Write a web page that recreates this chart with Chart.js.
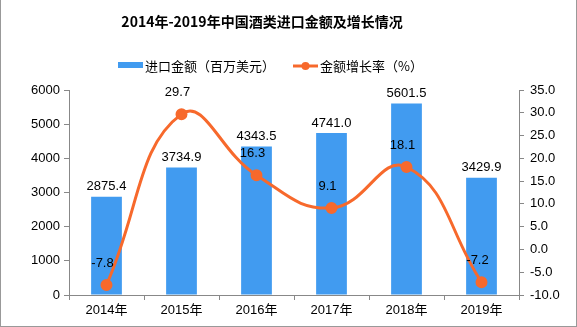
<!DOCTYPE html>
<html>
<head>
<meta charset="utf-8">
<script src="https://cdn.jsdelivr.net/npm/chart.js@4"></script>
<style>
  html, body { margin: 0; padding: 0; background: #fff; }
  #wrap { position: relative; width: 575px; height: 326px; border: 1px solid #999; border-top: none; }
</style>
</head>
<body>
<div id="wrap"><canvas id="wineChart" width="575" height="326"></canvas></div>
<script>
// data
const years = ["2014年", "2015年", "2016年", "2017年", "2018年", "2019年"];
const importValue = [2875.4, 3734.9, 4343.5, 4741.0, 5601.5, 3429.9];
const growthRate = [-7.8, 29.7, 16.3, 9.1, 18.1, -7.2];
const leftTicks = [0, 1000, 2000, 3000, 4000, 5000, 6000];
const rightTicks = [-10, -5, 0, 5, 10, 15, 20, 25, 30, 35];

const BAR_COLOR = "#419BF0";
const LINE_COLOR = "#F7692C";
const AXIS_COLOR = "#888";
const FONT = "'Liberation Sans', 'Noto Sans CJK SC', sans-serif";

// title, legend and value labels drawn by hand
const decorPlugin = {
  id: "decor",
  afterDatasetsDraw(chart) {
    const ctx = chart.ctx;
    ctx.save();
    ctx.fillStyle = "#000";
    ctx.textAlign = "center";
    ctx.textBaseline = "middle";
    ctx.font = "13px " + FONT;

    chart.getDatasetMeta(0).data.forEach((bar, i) => {
      ctx.fillText(importValue[i].toFixed(1), bar.x, bar.y - 10);
    });
    chart.getDatasetMeta(1).data.forEach((pt, i) => {
      ctx.fillText(growthRate[i].toFixed(1), pt.x - 4, pt.y - 22);
    });
    ctx.restore();
  },
  afterDraw(chart) {
    const ctx = chart.ctx;
    ctx.save();
    ctx.fillStyle = "#000";
    ctx.textBaseline = "middle";

    // title
    ctx.textAlign = "center";
    ctx.font = "bold 14px 'Noto Sans CJK SC', sans-serif";
    ctx.fillText("2014年-2019年中国酒类进口金额及增长情况", 261, 22);

    // legend
    ctx.textAlign = "left";
    ctx.font = "13px 'Noto Sans CJK SC', sans-serif";
    ctx.fillStyle = BAR_COLOR;
    ctx.fillRect(117, 62, 25, 6);
    ctx.fillStyle = "#000";
    ctx.fillText("进口金额（百万美元）", 144, 66);

    ctx.strokeStyle = LINE_COLOR;
    ctx.lineWidth = 3;
    ctx.beginPath();
    ctx.moveTo(292, 66);
    ctx.lineTo(317, 66);
    ctx.stroke();
    ctx.fillStyle = LINE_COLOR;
    ctx.beginPath();
    ctx.arc(304.5, 66, 4, 0, Math.PI * 2);
    ctx.fill();
    ctx.fillStyle = "#000";
    ctx.fillText("金额增长率（%）", 319, 66);
    ctx.restore();
  },
};

new Chart(document.getElementById("wineChart"), {
  data: {
    labels: years,
    datasets: [
      {
        type: "bar",
        data: importValue,
        backgroundColor: BAR_COLOR,
        yAxisID: "y",
        barPercentage: 0.41,
        categoryPercentage: 1,
        order: 2,
      },
      {
        type: "line",
        data: growthRate,
        borderColor: LINE_COLOR,
        backgroundColor: LINE_COLOR,
        borderWidth: 3,
        pointRadius: 4.5,
        pointHoverRadius: 4.5,
        tension: 0.45,
        yAxisID: "y1",
        order: 1,
      },
    ],
  },
  options: {
    responsive: false,
    animation: false,
    layout: { padding: { top: 90, bottom: 0, left: 0, right: 0 } },
    plugins: {
      legend: { display: false },
      tooltip: { enabled: false },
    },
    scales: {
      x: {
        offset: true,
        grid: { offset: true, drawOnChartArea: false, drawTicks: true, tickLength: 5, color: AXIS_COLOR },
        border: { color: AXIS_COLOR },
        ticks: { color: "#000", font: { family: FONT, size: 13 }, padding: 3 },
        afterFit: (s) => { s.height = 31; },
      },
      y: {
        position: "left",
        min: 0,
        max: 6000,
        afterBuildTicks: (s) => { s.ticks = leftTicks.map((v) => ({ value: v })); },
        grid: { drawOnChartArea: false, drawTicks: true, tickLength: 5, color: AXIS_COLOR },
        border: { color: AXIS_COLOR },
        ticks: {
          color: "#000",
          font: { family: FONT, size: 13 },
          padding: 4,
          callback: (v) => String(v),
        },
        afterFit: (s) => { s.width = 68; },
      },
      y1: {
        position: "right",
        min: -10,
        max: 35,
        afterBuildTicks: (s) => { s.ticks = rightTicks.map((v) => ({ value: v })); },
        grid: { drawOnChartArea: false, drawTicks: true, tickLength: 5, color: AXIS_COLOR },
        border: { color: AXIS_COLOR },
        ticks: {
          color: "#000",
          font: { family: FONT, size: 13 },
          padding: 6,
          callback: (v) => Number(v).toFixed(1),
        },
        afterFit: (s) => { s.width = 57; },
      },
    },
  },
  plugins: [decorPlugin],
});
</script>
</body>
</html>
